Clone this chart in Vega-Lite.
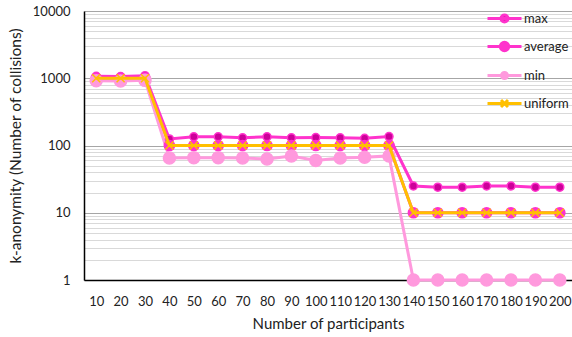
{
  "$schema": "https://vega.github.io/schema/vega-lite/v6.json",
  "width": 488,
  "height": 269,
  "autosize": "none",
  "padding": {"left": 84, "top": 11, "right": 0, "bottom": 57},
  "config": {
    "view": {"stroke": null},
    "font": "Lato",
    "axis": {"labelColor": "#222", "titleColor": "#222", "titleFontWeight": "normal", "domainColor": "#000", "domainWidth": 1.5, "ticks": false, "tickSize": 0}
  },
  "datasets": {
    "main": [
      {"n": 10, "s": "max", "k": 1070}, {"n": 20, "s": "max", "k": 1060}, {"n": 30, "s": "max", "k": 1090},
      {"n": 40, "s": "max", "k": 125}, {"n": 50, "s": "max", "k": 135}, {"n": 60, "s": "max", "k": 135},
      {"n": 70, "s": "max", "k": 130}, {"n": 80, "s": "max", "k": 135}, {"n": 90, "s": "max", "k": 130},
      {"n": 100, "s": "max", "k": 131}, {"n": 110, "s": "max", "k": 130}, {"n": 120, "s": "max", "k": 128},
      {"n": 130, "s": "max", "k": 136}, {"n": 140, "s": "max", "k": 25}, {"n": 150, "s": "max", "k": 24},
      {"n": 160, "s": "max", "k": 24}, {"n": 170, "s": "max", "k": 25}, {"n": 180, "s": "max", "k": 25},
      {"n": 190, "s": "max", "k": 24}, {"n": 200, "s": "max", "k": 24},
      {"n": 10, "s": "average", "k": 1000}, {"n": 20, "s": "average", "k": 1000}, {"n": 30, "s": "average", "k": 1000},
      {"n": 40, "s": "average", "k": 100}, {"n": 50, "s": "average", "k": 100}, {"n": 60, "s": "average", "k": 100},
      {"n": 70, "s": "average", "k": 100}, {"n": 80, "s": "average", "k": 100}, {"n": 90, "s": "average", "k": 100},
      {"n": 100, "s": "average", "k": 100}, {"n": 110, "s": "average", "k": 100}, {"n": 120, "s": "average", "k": 100},
      {"n": 130, "s": "average", "k": 100}, {"n": 140, "s": "average", "k": 10}, {"n": 150, "s": "average", "k": 10},
      {"n": 160, "s": "average", "k": 10}, {"n": 170, "s": "average", "k": 10}, {"n": 180, "s": "average", "k": 10},
      {"n": 190, "s": "average", "k": 10}, {"n": 200, "s": "average", "k": 10},
      {"n": 10, "s": "min", "k": 920}, {"n": 20, "s": "min", "k": 910}, {"n": 30, "s": "min", "k": 930},
      {"n": 40, "s": "min", "k": 65}, {"n": 50, "s": "min", "k": 66}, {"n": 60, "s": "min", "k": 66},
      {"n": 70, "s": "min", "k": 65}, {"n": 80, "s": "min", "k": 63}, {"n": 90, "s": "min", "k": 70},
      {"n": 100, "s": "min", "k": 60}, {"n": 110, "s": "min", "k": 65}, {"n": 120, "s": "min", "k": 67},
      {"n": 130, "s": "min", "k": 70}, {"n": 140, "s": "min", "k": 1}, {"n": 150, "s": "min", "k": 1},
      {"n": 160, "s": "min", "k": 1}, {"n": 170, "s": "min", "k": 1}, {"n": 180, "s": "min", "k": 1},
      {"n": 190, "s": "min", "k": 1}, {"n": 200, "s": "min", "k": 1},
      {"n": 10, "s": "uniform", "k": 1000}, {"n": 20, "s": "uniform", "k": 1000}, {"n": 30, "s": "uniform", "k": 1000},
      {"n": 40, "s": "uniform", "k": 100}, {"n": 50, "s": "uniform", "k": 100}, {"n": 60, "s": "uniform", "k": 100},
      {"n": 70, "s": "uniform", "k": 100}, {"n": 80, "s": "uniform", "k": 100}, {"n": 90, "s": "uniform", "k": 100},
      {"n": 100, "s": "uniform", "k": 100}, {"n": 110, "s": "uniform", "k": 100}, {"n": 120, "s": "uniform", "k": 100},
      {"n": 130, "s": "uniform", "k": 100}, {"n": 140, "s": "uniform", "k": 10}, {"n": 150, "s": "uniform", "k": 10},
      {"n": 160, "s": "uniform", "k": 10}, {"n": 170, "s": "uniform", "k": 10}, {"n": 180, "s": "uniform", "k": 10},
      {"n": 190, "s": "uniform", "k": 10}, {"n": 200, "s": "uniform", "k": 10}
    ]
  },
  "data": {"name": "main"},
  "encoding": {
    "x": {
      "field": "n", "type": "ordinal",
      "scale": {"padding": 0.5},
      "axis": {"title": "Number of participants", "labelAngle": 0, "labelFontSize": 13, "labelPadding": 15, "titleFontSize": 15, "titlePadding": 8, "grid": false, "labelOverlap": false}
    },
    "y": {
      "field": "k", "type": "quantitative",
      "scale": {"type": "log", "domain": [1, 10000], "nice": false},
      "axis": {
        "title": "k-anonymity (Number of collisions)",
        "values": [1,2,3,4,5,6,7,8,9,10,20,30,40,50,60,70,80,90,100,200,300,400,500,600,700,800,900,1000,2000,3000,4000,5000,6000,7000,8000,9000,10000],
        "format": "d",
        "labelExpr": "indexof([1,10,100,1000,10000], datum.value) >= 0 ? datum.label : ''",
        "labelOverlap": false,
        "labelFontSize": 13,
        "labelPadding": 14,
        "titleFontSize": 15.5,
        "titlePadding": 9,
        "grid": true,
        "gridWidth": 1,
        "gridColor": {"condition": {"test": "indexof([1,10,100,1000,10000], datum.value) >= 0", "value": "#A6A6A6"}, "value": "#D9D9D9"}
      }
    }
  },
  "layer": [
    {
      "transform": [{"filter": "datum.s !== 'uniform'"}],
      "mark": {"type": "line", "strokeWidth": 3},
      "encoding": {
        "color": {
          "field": "s", "type": "nominal",
          "scale": {"domain": ["max", "average", "min", "uniform"], "range": ["#FF33CC", "#FF33CC", "#FF99DD", "#FFC000"]},
          "legend": {
            "orient": "none", "legendX": 409, "legendY": -4, "title": null, "padding": 0,
            "symbolSize": 400, "symbolStrokeWidth": 3, "labelFontSize": 13, "labelColor": "#222",
            "labelOffset": 8, "rowPadding": 7,
            "encode": {
              "symbols": {
                "update": {
                  "shape": {"signal": "datum.value === 'max' ? 'M-1.7,0H1.7M0.35,0A0.35,0.35 0 1 1 -0.35,0A0.35,0.35 0 1 1 0.35,0Z' : datum.value === 'average' ? 'M-1.7,0H1.7M0.42,0A0.42,0.42 0 1 1 -0.42,0A0.42,0.42 0 1 1 0.42,0Z' : datum.value === 'min' ? 'M-1.7,0H1.7M0.3,0A0.3,0.3 0 1 1 -0.3,0A0.3,0.3 0 1 1 0.3,0Z' : 'M-1.7,0H1.7M-0.35,-0.35L0.35,0.35M-0.35,0.35L0.35,-0.35'"},
                  "fill": {"signal": "datum.value === 'max' ? '#CC0099' : datum.value === 'average' ? '#FF33CC' : datum.value === 'min' ? '#FF99DD' : 'transparent'"},
                  "stroke": {"signal": "datum.value === 'min' ? '#FF99DD' : datum.value === 'uniform' ? '#FFC000' : '#FF33CC'"},
                  "strokeWidth": {"value": 3},
                  "opacity": {"value": 1}
                }
              }
            }
          }
        }
      }
    },
    {
      "transform": [{"filter": "datum.s !== 'uniform'"}],
      "mark": {"type": "point", "filled": true, "strokeWidth": 1.5, "opacity": 1},
      "encoding": {
        "shape": {"value": "circle"},
        "size": {"field": "s", "type": "nominal", "scale": {"domain": ["max", "average", "min"], "range": [64, 144, 100]}, "legend": null},
        "fill": {"field": "s", "type": "nominal", "scale": {"domain": ["max", "average", "min"], "range": ["#CC0099", "#FF33CC", "#FF99DD"]}, "legend": null},
        "stroke": {"field": "s", "type": "nominal", "scale": {"domain": ["max", "average", "min"], "range": ["#FF33CC", "#FF33CC", "#FF99DD"]}, "legend": null}
      }
    },
    {
      "transform": [{"filter": "datum.s === 'uniform'"}],
      "mark": {"type": "line", "strokeWidth": 3, "color": "#FFC000"},
      "encoding": {}
    },
    {
      "transform": [{"filter": "datum.s === 'uniform'"}],
      "mark": {"type": "point", "filled": false, "shape": "M-1,-1L1,1M-1,1L1,-1", "size": 64, "stroke": "#FFC000", "strokeWidth": 1.5, "opacity": 1},
      "encoding": {}
    }
  ]
}
